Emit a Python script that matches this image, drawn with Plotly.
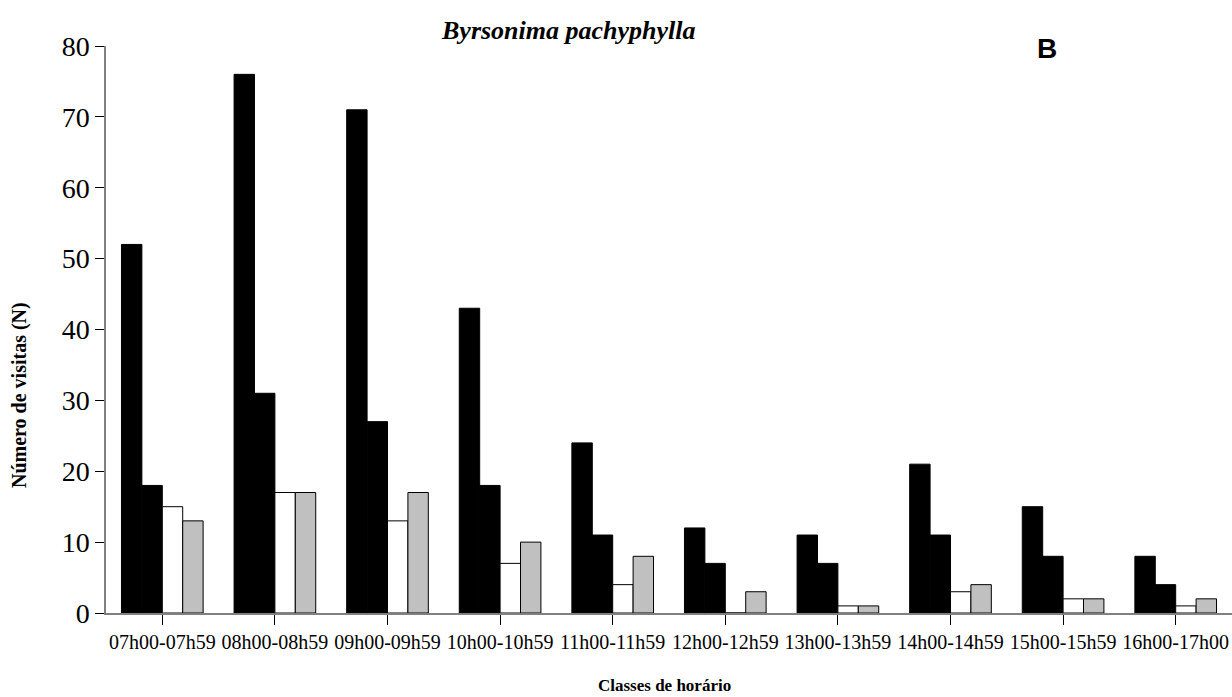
import plotly.graph_objects as go

# Hourly visit classes and visit counts for each of the four visitor groups
classes = ["07h00-07h59", "08h00-08h59", "09h00-09h59", "10h00-10h59", "11h00-11h59",
           "12h00-12h59", "13h00-13h59", "14h00-14h59", "15h00-15h59", "16h00-17h00"]
serie_1 = [52, 76, 71, 43, 24, 12, 11, 21, 15, 8]
serie_2 = [18, 31, 27, 18, 11, 7, 7, 11, 8, 4]
serie_3 = [15, 17, 13, 7, 4, 0, 1, 3, 2, 1]
serie_4 = [13, 17, 17, 10, 8, 3, 1, 4, 2, 2]
y_ticks = [0, 10, 20, 30, 40, 50, 60, 70, 80]

fills = ["#000000", "#000000", "#FFFFFF", "#C0C0C0"]
series = [serie_1, serie_2, serie_3, serie_4]

fig = go.Figure()
for vals, fill in zip(series, fills):
    fig.add_trace(go.Bar(
        x=classes, y=vals,
        marker=dict(color=fill, line=dict(color="#000000", width=1)),
        showlegend=False,
    ))

serif = "Liberation Serif, Times New Roman, serif"

fig.update_layout(
    width=1232, height=697,
    margin=dict(l=106, r=0, t=46, b=84),
    paper_bgcolor="white", plot_bgcolor="white",
    barmode="group", bargap=0.275, bargroupgap=0,
    font=dict(family=serif, color="black"),
    xaxis=dict(
        range=[-0.5, 9.5], showgrid=False, zeroline=False,
        showline=True, linecolor="#808080", linewidth=1.5,
        ticks="outside", ticklen=10, tickcolor="#000000", tickwidth=1,
        tickfont=dict(family=serif, size=20, color="black"),
    ),
    yaxis=dict(
        range=[0, 80], tickvals=y_ticks, showgrid=False, zeroline=False,
        showline=True, linecolor="#808080", linewidth=1.5,
        ticks="outside", ticklen=9, tickcolor="#000000", tickwidth=1,
        tickfont=dict(family=serif, size=28, color="black"),
    ),
)

# Text labels placed by pixel position (x from left, y from top)
labels = [
    ("<b><i>Byrsonima pachyphylla</i></b>", 568, 31, 26, serif, 0),
    ("<b>B</b>", 1047, 48, 28, "Liberation Sans, Arial, sans-serif", 0),
    ("<b>Classes de horário</b>", 664, 685, 17, serif, 0),
    ("<b>Número de visitas (N)</b>", 19, 395, 20, serif, -90),
]

plot_w = 1232 - 106
plot_h = 697 - 46 - 84
for text, px, py, size, fam, angle in labels:
    fig.add_annotation(
        text=text, showarrow=False, textangle=angle,
        xref="paper", yref="paper",
        x=(px - 106) / plot_w, y=(697 - py - 84) / plot_h,
        xanchor="center", yanchor="middle",
        font=dict(family=fam, size=size, color="black"),
    )

fig.write_html("out.html")
